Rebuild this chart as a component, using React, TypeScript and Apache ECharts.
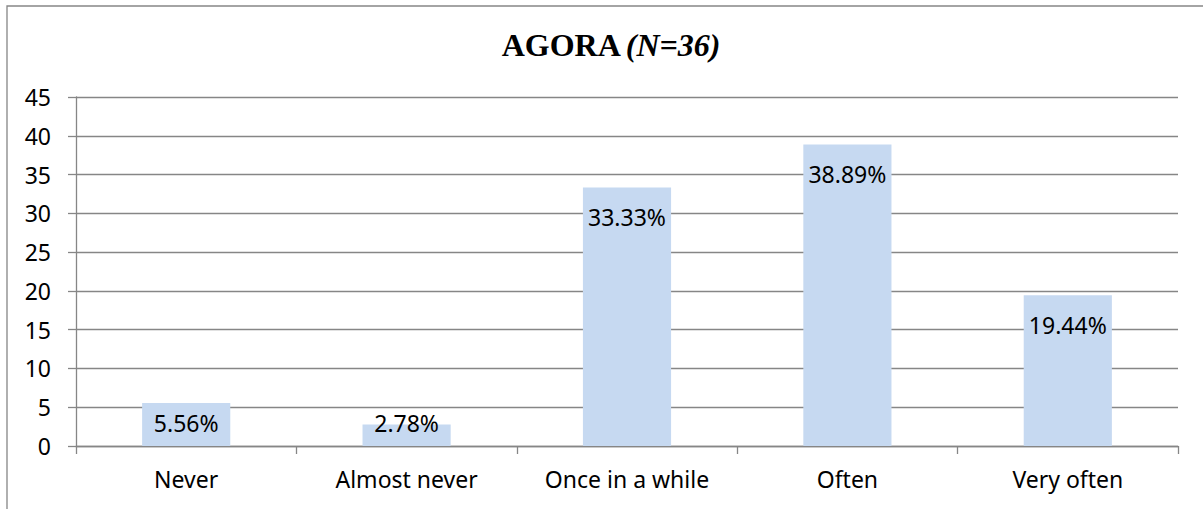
import React, { useEffect, useRef } from "react";
import * as echarts from "echarts";

const categories = ["Never", "Almost never", "Once in a while", "Often", "Very often"];
const values = [5.56, 2.78, 33.33, 38.89, 19.44];
const yTicks = { min: 0, max: 45, interval: 5 };
const titleMain = "AGORA";
const titleSub = "(N=36)";

export default function App() {
  const ref = useRef<HTMLDivElement>(null);
  useEffect(() => {
    if (!ref.current) return;
    const chart = echarts.init(ref.current, null, { renderer: "svg" });
    const sans = "'Noto Sans', 'Open Sans', sans-serif";
    const data = values.map((v) => ({
      value: v,
      label:
        v < 10
          ? { position: "insideBottom", distance: 12 }
          : { position: "insideTop", distance: 18 },
    }));
    chart.setOption({
      animation: false,
      backgroundColor: "#fff",
      title: {
        text: `{a|${titleMain}} {b|${titleSub}}`,
        left: 606,
        top: 24,
        textAlign: "center",
        textStyle: {
          rich: {
            a: { fontFamily: "'Liberation Serif', serif", fontWeight: "bold", fontSize: 32, color: "#000" },
            b: { fontFamily: "'Liberation Serif', serif", fontWeight: "bold", fontStyle: "italic", fontSize: 32, color: "#000" },
          },
        },
      },
      graphic: [
        {
          type: "rect",
          shape: { x: 7, y: 6, width: 1400, height: 700 },
          style: { fill: "none", stroke: "#868686", lineWidth: 1.3 },
          silent: true,
          z: -1,
        },
      ],
      grid: { left: 76, right: 25, top: 97, bottom: 63, containLabel: false },
      xAxis: {
        type: "category",
        data: categories,
        axisLine: { lineStyle: { color: "#868686", width: 1.3 } },
        axisTick: { show: true, length: 8, alignWithLabel: false, lineStyle: { color: "#868686", width: 1.3 } },
        axisLabel: { color: "#000", fontFamily: sans, fontSize: 23, margin: 21, interval: 0 },
      },
      yAxis: {
        type: "value",
        min: yTicks.min,
        max: yTicks.max,
        interval: yTicks.interval,
        axisLine: { show: true, lineStyle: { color: "#868686", width: 1.3 } },
        axisTick: { show: true, length: 8, lineStyle: { color: "#868686", width: 1.3 } },
        splitLine: { show: true, lineStyle: { color: "#868686", width: 1.3 } },
        axisLabel: { color: "#000", fontFamily: sans, fontSize: 23, margin: 25 },
      },
      series: [
        {
          type: "bar",
          data,
          barWidth: "40%",
          itemStyle: { color: "#C6D9F1" },
          label: {
            show: true,
            color: "#000",
            fontFamily: sans,
            fontSize: 23,
            formatter: (p: any) => `${Number(p.value).toFixed(2)}%`,
          },
        },
      ],
    });
    return () => chart.dispose();
  }, []);
  return (
    <div
      ref={ref}
      style={{ position: "fixed", left: 0, top: 0, width: 1203, height: 509 }}
    />
  );
}
